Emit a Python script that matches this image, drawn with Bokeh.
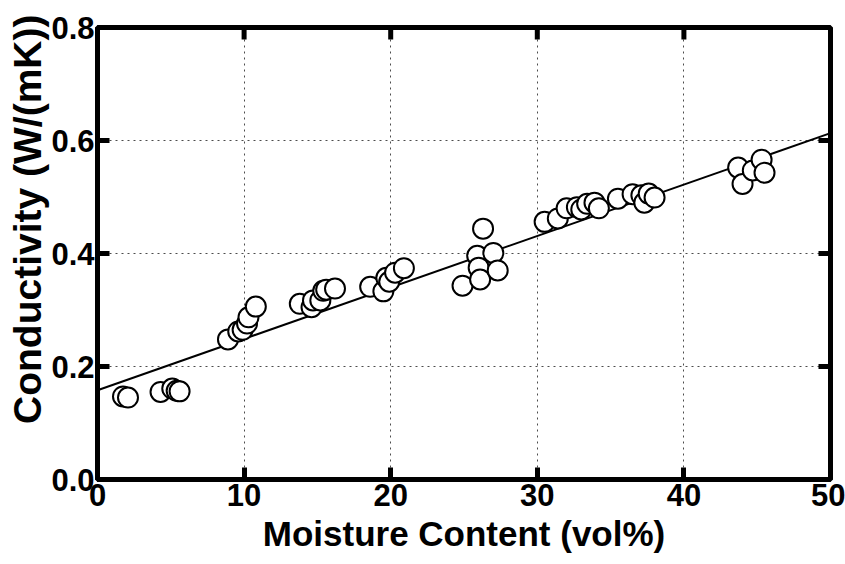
import math
from bokeh.plotting import figure
from bokeh.models import NumeralTickFormatter, FixedTicker, Range1d, Title
from bokeh.embed import file_html
from bokeh.resources import INLINE

# measured data
moisture = [1.74, 2.08,
            4.3, 5.1, 5.4, 5.6,
            8.9, 9.6, 9.9, 10.2, 10.3, 10.8,
            13.8, 14.6, 14.7, 15.2, 15.4, 15.6, 16.2,
            18.6, 19.5, 19.7, 19.9, 20.3, 20.9,
            24.9, 25.9, 26.0, 26.1, 26.3, 27.0, 27.3,
            30.5, 31.4, 32.0, 32.7, 33.0, 33.4, 33.9, 34.2, 35.5, 36.5, 37.1, 37.3, 37.6, 38.0,
            43.7, 44.0, 44.7, 45.3, 45.5]
conductivity = [0.147, 0.145,
                0.155, 0.161, 0.157, 0.156,
                0.248, 0.262, 0.265, 0.276, 0.287, 0.306,
                0.311, 0.305, 0.317, 0.317, 0.334, 0.336, 0.338,
                0.341, 0.333, 0.357, 0.350, 0.366, 0.374,
                0.343, 0.396, 0.375, 0.354, 0.444, 0.401, 0.370,
                0.456, 0.462, 0.480, 0.482, 0.478, 0.488, 0.490, 0.480, 0.497, 0.505, 0.503, 0.490, 0.506, 0.499,
                0.552, 0.523, 0.547, 0.566, 0.543]
fit_x = [0, 50]
fit_y = [0.158, 0.613]
x_ticks = [0, 10, 20, 30, 40, 50]
y_ticks = [0.0, 0.2, 0.4, 0.6, 0.8]
x_title = "Moisture Content (vol%)"
y_title = "Conductivity (W/(mK))"

FONT = "Liberation Sans"

p = figure(width=845, height=564, output_backend="svg", toolbar_location=None,
           x_range=Range1d(0, 50), y_range=Range1d(0, 0.8),
           min_border_left=97, min_border_right=15, min_border_top=27, min_border_bottom=85)
p.background_fill_color = "white"
p.border_fill_color = "white"
p.outline_line_color = "black"
p.outline_line_width = 5

for g in (p.xgrid, p.ygrid):
    g.grid_line_color = "black"
    g.grid_line_dash = "2 4"
    g.grid_line_width = 1
    g.grid_line_alpha = 0.7
p.xgrid.ticker = FixedTicker(ticks=x_ticks)
p.ygrid.ticker = FixedTicker(ticks=y_ticks)

# inward ticks on top and right frame edges
p.scatter(x_ticks, [p.y_range.end] * len(x_ticks), marker="dash", angle=math.pi / 2,
          size=24, line_width=5, line_color="black")
p.scatter([p.x_range.end] * len(y_ticks), y_ticks, marker="dash",
          size=24, line_width=5, line_color="black")

p.line(fit_x, fit_y, line_color="black", line_width=2)
p.scatter(moisture, conductivity, size=20, fill_color="white", line_color="black", line_width=2)

def style(ax):
    ax.axis_line_width = 5
    ax.axis_line_color = "black"
    ax.major_tick_in = 12
    ax.major_tick_out = 0
    ax.major_tick_line_width = 5
    ax.major_tick_line_color = "black"
    ax.minor_tick_line_color = None
    ax.major_label_text_font = FONT
    ax.major_label_text_font_style = "bold"
    ax.major_label_text_color = "black"
    ax.major_label_text_font_size = "31px"
    ax.axis_label_text_font = FONT
    ax.axis_label_text_font_style = "bold"
    ax.axis_label_text_color = "black"

xa = p.xaxis[0]
ya = p.yaxis[0]
xa.ticker = FixedTicker(ticks=x_ticks)
ya.ticker = FixedTicker(ticks=y_ticks)
ya.formatter = NumeralTickFormatter(format="0.0")
style(xa)
style(ya)
xa.axis_label = x_title
xa.axis_label_text_font_size = "35px"
xa.axis_label_standoff = 5
xa.major_label_standoff = 4
ya.major_label_standoff = 3

ytitle = Title(text=y_title, align="right", offset=-13, standoff=0,
               text_font=FONT, text_font_style="bold", text_font_size="39px",
               text_color="black")
p.add_layout(ytitle, "left")

open("out.html", "w").write(file_html(p, INLINE))
